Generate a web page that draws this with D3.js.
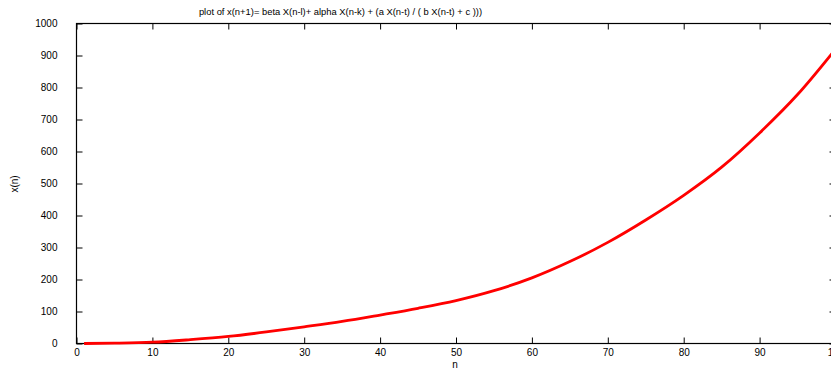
<!DOCTYPE html>
<html>
<head>
<meta charset="utf-8">
<script src="https://cdn.jsdelivr.net/npm/d3@7"></script>
<style>
  html, body { margin: 0; padding: 0; background: #fff; }
  svg { display: block; }
  text { font-family: "Liberation Sans", Arial, sans-serif; fill: #000; }
</style>
</head>
<body>
<svg id="chart" width="831" height="370"></svg>
<script>
// Series: x(n) for n = 1 .. 100 (sampled every 5 steps)
const nValues = [1, 5, 10, 15, 20, 25, 30, 35, 40, 45, 50, 55, 60, 65, 70, 75, 80, 85, 90, 95, 100];
const xValues = [0, 1, 4, 12, 22, 36, 52, 69, 89, 110, 134, 165, 205, 256, 316, 386, 463, 551, 658, 778, 920];

const xTicks = [0, 10, 20, 30, 40, 50, 60, 70, 80, 90, 100];
const yTicks = [0, 100, 200, 300, 400, 500, 600, 700, 800, 900, 1000];

const titleText = "plot of x(n+1)= beta X(n-l)+ alpha X(n-k) + (a X(n-t) / ( b X(n-t) + c )))";
const xLabel = "n";
const yLabel = "x(n)";

const svg = d3.select("#chart");
const plotLeft = 76.5, plotRight = 835.5, plotTop = 23.5, plotBottom = 343.5;

const x = d3.scaleLinear().domain([0, 100]).range([plotLeft, plotRight]);
const y = d3.scaleLinear().domain([0, 1000]).range([plotBottom, plotTop]);

const tickLen = 6;

// Frame
svg.append("rect")
  .attr("x", plotLeft).attr("y", plotTop)
  .attr("width", plotRight - plotLeft).attr("height", plotBottom - plotTop)
  .attr("fill", "none").attr("stroke", "#000").attr("stroke-width", 1.2);

// Bottom axis (ticks pointing inward) with labels
const bx = svg.append("g").attr("transform", `translate(0,${plotBottom})`)
  .call(d3.axisBottom(x).tickValues(xTicks).tickFormat(d3.format("d"))
    .tickSizeInner(-tickLen).tickSizeOuter(0).tickPadding(5));
// Top mirror ticks
const tx = svg.append("g").attr("transform", `translate(0,${plotTop})`)
  .call(d3.axisTop(x).tickValues(xTicks).tickSizeInner(-tickLen).tickSizeOuter(0).tickFormat(""));
// Left axis with labels
const ly = svg.append("g").attr("transform", `translate(${plotLeft},0)`)
  .call(d3.axisLeft(y).tickValues(yTicks).tickFormat(d3.format("d"))
    .tickSizeInner(-tickLen).tickSizeOuter(0).tickPadding(19));
// Right mirror ticks
const ry = svg.append("g").attr("transform", `translate(${plotRight},0)`)
  .call(d3.axisRight(y).tickValues(yTicks).tickSizeInner(-tickLen).tickSizeOuter(0).tickFormat(""));

[bx, tx, ly, ry].forEach(g => {
  g.select(".domain").remove();
  g.selectAll(".tick line").attr("stroke", "#000").attr("stroke-width", 1);
  g.selectAll(".tick text")
    .style("font-family", '"Liberation Sans", Arial, sans-serif')
    .style("font-size", "10px").attr("fill", "#000");
});

// Curve
const line = d3.line()
  .x((d, i) => x(nValues[i]))
  .y(d => y(d))
  .curve(d3.curveMonotoneX);

svg.append("path")
  .datum(xValues)
  .attr("d", line)
  .attr("fill", "none")
  .attr("stroke", "#ff0000")
  .attr("stroke-width", 2.8);

// Title
svg.append("text")
  .attr("x", 340.5).attr("y", 15)
  .attr("text-anchor", "middle")
  .style("font-size", "9.4px")
  .text(titleText);

// Axis titles
svg.append("text")
  .attr("x", 455).attr("y", 368)
  .attr("text-anchor", "middle")
  .style("font-size", "10px")
  .text(xLabel);

svg.append("text")
  .attr("transform", "translate(18,184) rotate(-90)")
  .attr("text-anchor", "middle")
  .style("font-size", "10px")
  .text(yLabel);
</script>
</body>
</html>
